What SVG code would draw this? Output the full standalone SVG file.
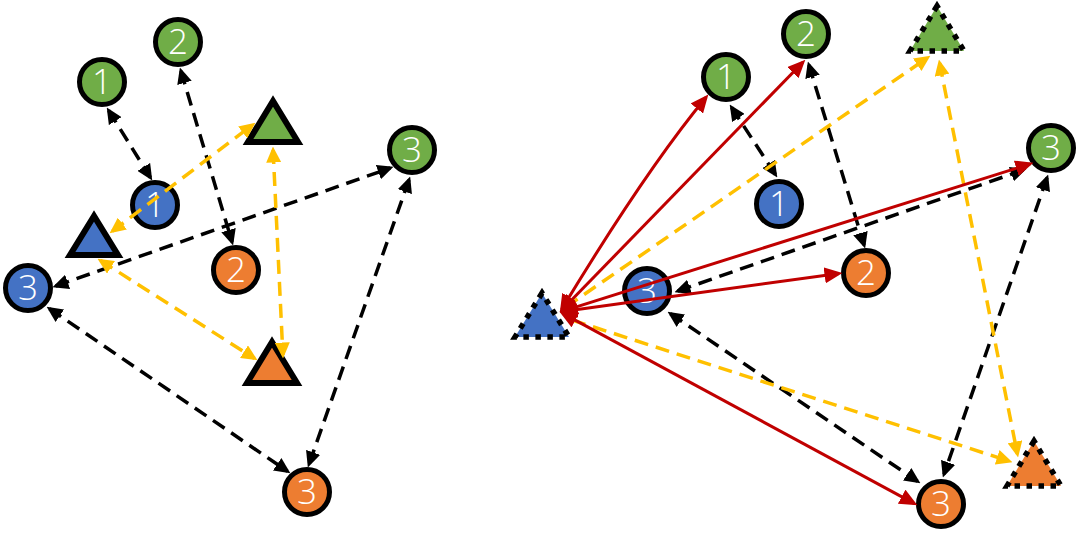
<svg xmlns="http://www.w3.org/2000/svg" width="1080" height="536" viewBox="0 0 1080 536">
<style>
.nd{stroke:#000;stroke-width:5}
.g{fill:#70AD47}.b{fill:#4472C4}.o{fill:#ED7D31}
.tri{stroke:#000;stroke-width:6;stroke-linejoin:miter}
.dtri{stroke:#000;stroke-width:5.5;stroke-dasharray:5.5 6.5;stroke-linejoin:miter}
.lb{fill:#fff;font-family:"Open Sans","Noto Sans","Liberation Sans",sans-serif;font-weight:300;font-size:35px;text-anchor:middle}
.bk{stroke:#000;stroke-width:3.5;stroke-dasharray:14 8;fill:none;marker-start:url(#ak);marker-end:url(#ak)}
.yl{stroke:#FFC000;stroke-width:3.5;stroke-dasharray:14 8;fill:none;marker-start:url(#ay);marker-end:url(#ay)}
.yl1{stroke:#FFC000;stroke-width:3.5;stroke-dasharray:14 8;fill:none;marker-end:url(#ay)}
.rd{stroke:#C00000;stroke-width:3;fill:none;marker-start:url(#ar);marker-end:url(#ar)}
</style>
<defs>
<marker id="ak" markerUnits="userSpaceOnUse" viewBox="0 0 16 15" markerWidth="16" markerHeight="15" refX="12.5" refY="7.5" orient="auto-start-reverse"><path d="M0,0 L16,7.5 L0,15 z" fill="#000"/></marker>
<marker id="ay" markerUnits="userSpaceOnUse" viewBox="0 0 16 15" markerWidth="16" markerHeight="15" refX="12.5" refY="7.5" orient="auto-start-reverse"><path d="M0,0 L16,7.5 L0,15 z" fill="#FFC000"/></marker>
<marker id="ar" markerUnits="userSpaceOnUse" viewBox="0 0 18 16" markerWidth="18" markerHeight="16" refX="14.5" refY="8" orient="auto-start-reverse"><path d="M0,0 L18,8 L0,16 z" fill="#C00000"/></marker>
</defs>
<rect width="1080" height="536" fill="#fff"/>

<!-- Left panel nodes -->
<g id="L-G1"><circle class="nd g" cx="102" cy="82" r="22.5"/><text class="lb" x="102" y="94">1</text></g>
<g id="L-G2"><circle class="nd g" cx="178" cy="42" r="22.5"/><text class="lb" x="178" y="54">2</text></g>
<g id="L-G3"><circle class="nd g" cx="412" cy="150" r="22.5"/><text class="lb" x="412" y="162">3</text></g>
<g id="L-B1"><circle class="nd b" cx="155" cy="205" r="22.5"/><text class="lb" x="155" y="217">1</text></g>
<g id="L-B3"><circle class="nd b" cx="28" cy="288" r="22.5"/><text class="lb" x="28" y="300">3</text></g>
<g id="L-O2"><circle class="nd o" cx="236" cy="270" r="22.5"/><text class="lb" x="236" y="282">2</text></g>
<g id="L-O3"><circle class="nd o" cx="307" cy="492" r="22.5"/><text class="lb" x="307" y="504">3</text></g>
<g id="L-GT"><polygon class="tri g" points="273,101 248,142 298,142"/></g>
<g id="L-BT"><polygon class="tri b" points="94,216 70,255 118,255"/></g>
<g id="L-OT"><polygon class="tri o" points="272,342 247,383 297,383"/></g>

<!-- Right panel nodes -->
<g id="R-G1"><circle class="nd g" cx="726" cy="77" r="22.5"/><text class="lb" x="726" y="89">1</text></g>
<g id="R-G2"><circle class="nd g" cx="806" cy="34" r="22.5"/><text class="lb" x="806" y="46">2</text></g>
<g id="R-G3"><circle class="nd g" cx="1051" cy="148" r="22.5"/><text class="lb" x="1051" y="160">3</text></g>
<g id="R-B1"><circle class="nd b" cx="779" cy="204" r="22.5"/><text class="lb" x="779" y="216">1</text></g>
<g id="R-B3"><circle class="nd b" cx="647" cy="291" r="22.5"/><text class="lb" x="647" y="303">3</text></g>
<g id="R-O2"><circle class="nd o" cx="866" cy="273" r="22.5"/><text class="lb" x="866" y="285">2</text></g>
<g id="R-O3"><circle class="nd o" cx="941" cy="504" r="22.5"/><text class="lb" x="941" y="516">3</text></g>
<g id="R-GT"><polygon class="dtri g" points="937,6 910,51 964,51"/></g>
<g id="R-BT"><polygon class="dtri b" points="542,293 515,337 569,337"/></g>
<g id="R-OT"><polygon class="dtri o" points="1034,441 1007,486 1061,486"/></g>

<g id="connectors">
<!-- left black -->
<line class="bk" x1="108.6" y1="110.5" x2="150.4" y2="177.5"/>
<line class="bk" x1="180.9" y1="70.9" x2="232.1" y2="242.1"/>
<line class="bk" x1="55.8" y1="286" x2="390.2" y2="168"/>
<line class="bk" x1="49.5" y1="308.7" x2="287.5" y2="471.3"/>
<line class="bk" x1="409" y1="179.8" x2="309" y2="464.2"/>
<!-- left yellow -->
<line class="yl" x1="112.4" y1="231.2" x2="252.6" y2="124.8"/>
<line class="yl" x1="273.1" y1="150" x2="282.9" y2="355"/>
<line class="yl" x1="100.5" y1="260.6" x2="254.5" y2="358.4"/>
<!-- right black -->
<line class="bk" x1="731.6" y1="107.5" x2="775.4" y2="174.5"/>
<line class="bk" x1="808.9" y1="64.9" x2="864.1" y2="245.1"/>
<line class="bk" x1="677.8" y1="291" x2="1023.2" y2="170"/>
<line class="bk" x1="670.5" y1="313.7" x2="917.5" y2="481.3"/>
<line class="bk" x1="1047" y1="177.8" x2="944" y2="474.2"/>
<!-- right yellow -->
<line class="yl1" x1="566" y1="307" x2="927.5" y2="57.7"/>
<line class="yl" x1="939.6" y1="63" x2="1017.4" y2="454"/>
<line class="yl1" x1="572" y1="320" x2="1009.1" y2="461.1"/>
<!-- right red -->
<path class="rd" d="M561.6,309.4 Q646,170 706.1,97.3"/>
<line class="rd" x1="562.1" y1="309.8" x2="802.9" y2="62.2"/>
<line class="rd" x1="562.9" y1="311.1" x2="1030.1" y2="163.9"/>
<line class="rd" x1="563" y1="311.6" x2="839" y2="273.4"/>
<line class="rd" x1="562.6" y1="313.4" x2="914.4" y2="503.6"/>
</g>
</svg>
